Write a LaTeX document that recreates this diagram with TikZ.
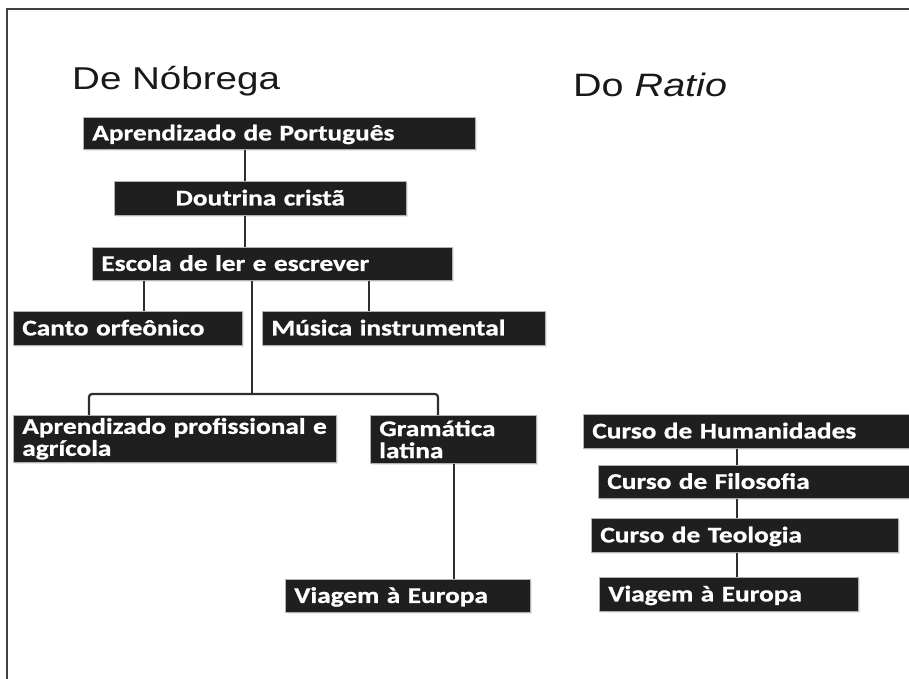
\documentclass[tikz,border=0pt]{standalone}
\usepackage{fontspec}
\usetikzlibrary{shadows}
\newfontfamily\headfont{Liberation Sans}[FakeStretch=1.22]
\newfontfamily\boxfont{Carlito}[FakeStretch=1.22, FakeBold=0.9, WordSpace=0.4]

\tikzset{
	blk/.style={anchor=north west, fill=black!88, draw=gray!60, line width=0.6pt, text=white,
		font=\boxfont\bfseries\fontsize{22.4}{22}\selectfont, align=left,
		inner xsep=9pt, inner ysep=0pt,
		drop shadow={opacity=0.18, shadow xshift=1.5pt, shadow yshift=-2pt}},
	one/.style={blk, text height=14.2pt, text depth=0pt},
	link/.style={line width=2.2pt, draw=black!82},
	head/.style={anchor=base west, text=black!90, inner sep=0pt}
}

\begin{document}
\begin{tikzpicture}[x=1pt,y=-1pt]
	\useasboundingbox (0,0) rectangle (909,679);
	% frame
	\draw[line width=1.5pt, black!75] (7,679) -- (7,9) -- (909,9);
	% titles
	\node[head, font=\headfont\fontsize{31.6}{36}\selectfont] (tnob) at (72,90) {De Nóbrega};
	\node[head, font=\headfont\fontsize{32.4}{36}\selectfont] (trat) at (573,97) {Do \textit{Ratio}};
	% De Nobrega
	\node[one, text width=374pt, minimum height=32pt] (apr) at (83,117) {Aprendizado de Português};
	\node[one, text width=274pt, minimum height=34pt, align=center] (dou) at (114,181) {Doutrina cristã};
	\node[one, text width=342pt, minimum height=33pt] (esc) at (92,247) {Escola de ler e escrever};
	\node[one, text width=211pt, minimum height=34pt] (can) at (13,311) {Canto orfeônico};
	\node[one, text width=265pt, minimum height=34pt] (mus) at (262,311) {Música instrumental};
	\node[blk, text width=305pt, minimum height=47pt] (prof) at (13,415) {\mbox{Aprendizado profissional e}\\agrícola};
	\node[blk, text width=148pt, minimum height=48pt] (gra) at (370,415) {Gramática\\latina};
	\node[one, text width=227pt, minimum height=33pt] (via) at (285,579) {Viagem à Europa};
	% Ratio
	\node[one, text width=319pt, minimum height=34pt] (hum) at (583,414) {Curso de Humanidades};
	\node[one, text width=304pt, minimum height=33pt] (fil) at (598,465) {Curso de Filosofia};
	\node[one, text width=289pt, minimum height=34pt] (teo) at (591,518) {Curso de Teologia};
	\node[one, text width=241pt, minimum height=34pt] (via2) at (599,577) {Viagem à Europa};
	% links
	\coordinate (fork) at (252,394);
	\draw[link] (apr.south -| 245,0) -- (dou.north -| 245,0);
	\draw[link] (dou.south -| 245,0) -- (esc.north -| 245,0);
	\draw[link] (esc.south -| 144,0) -- (can.north -| 144,0);
	\draw[link] (esc.south -| 369,0) -- (mus.north -| 369,0);
	\draw[link] (esc.south -| fork) -- (fork);
	\draw[link, rounded corners=3pt] (prof.north -| 89,0) |- (fork) -| (gra.north -| 438,0);
	\draw[link] (gra.south -| 454,0) -- (via.north -| 454,0);
	\draw[link] (hum.south -| 737,0) -- (fil.north -| 737,0);
	\draw[link] (fil.south -| 737,0) -- (teo.north -| 737,0);
	\draw[link] (teo.south -| 737,0) -- (via2.north -| 737,0);
\end{tikzpicture}
\end{document}
